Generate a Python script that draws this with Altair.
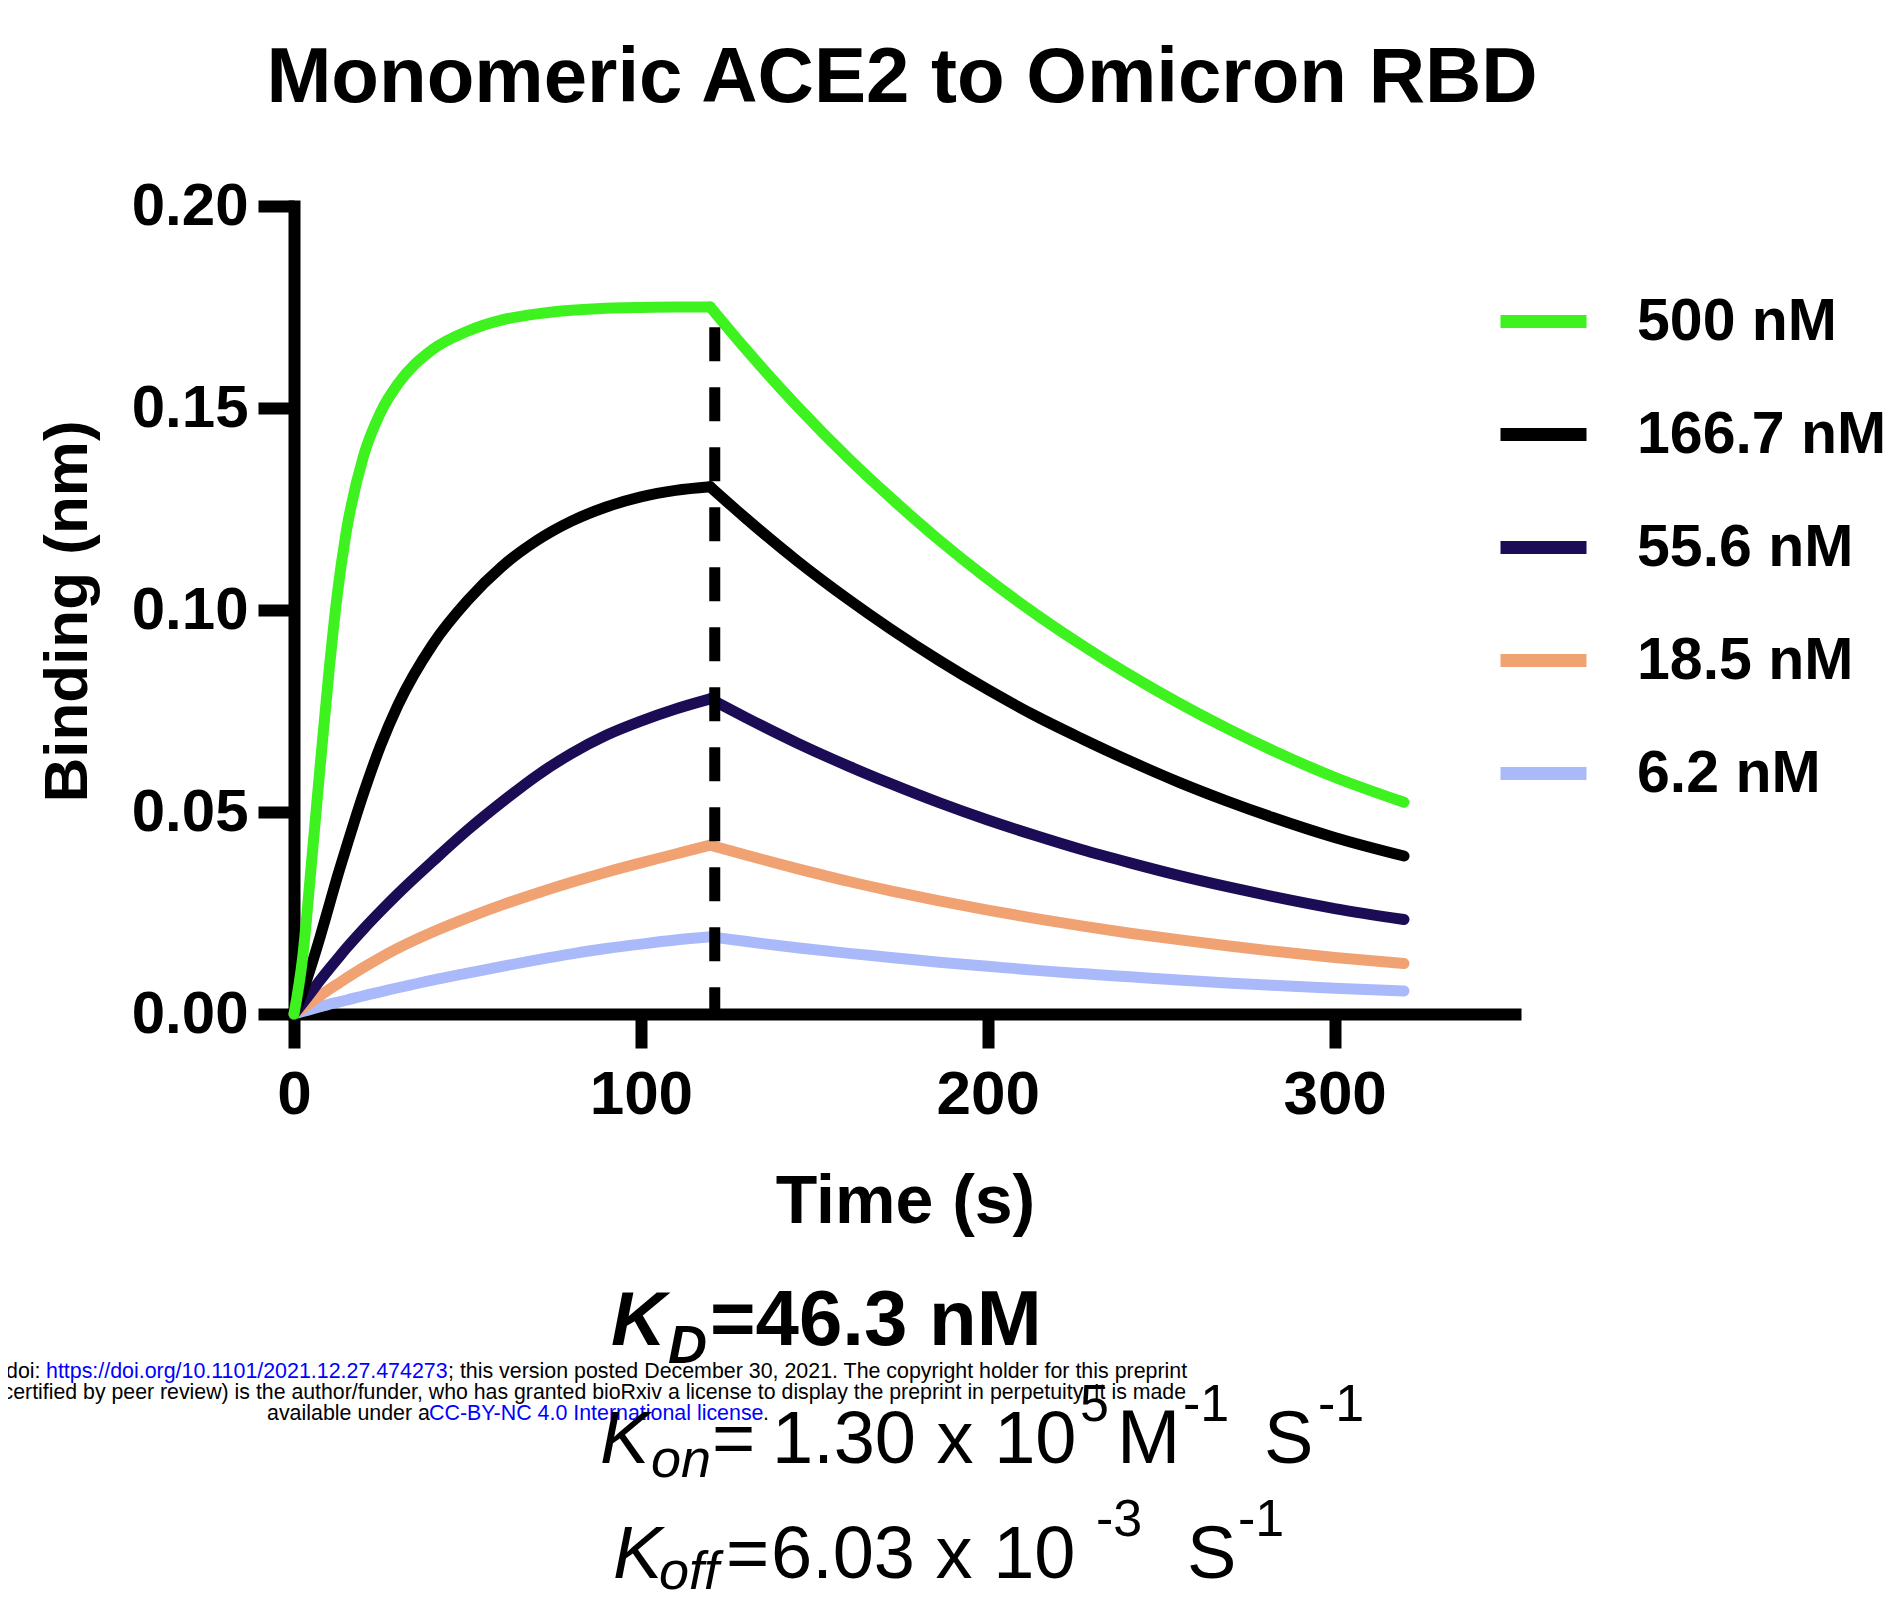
import altair as alt
import pandas as pd

FONT = "Liberation Sans"

# ---------------- data ----------------
series = ["500 nM", "166.7 nM", "55.6 nM", "18.5 nM", "6.2 nM"]
colors = ["#3DF21E", "#000000", "#1C0C55", "#F0A273", "#A9B9FA"]

assoc_time = [0, 2.5, 5, 7.5, 10, 12.5, 15, 20, 25, 30, 40, 50, 60, 70, 80, 90, 100, 110, 120]
dissoc_time = [120, 130, 145, 160, 172, 186, 200, 214, 227, 241, 255, 269, 282, 300, 320]

assoc_500 = [0, 0.014, 0.037, 0.061, 0.084, 0.104, 0.119, 0.138, 0.149, 0.156, 0.1645, 0.169, 0.1718, 0.1733, 0.1742, 0.1747, 0.1749, 0.175, 0.175]
assoc_166 = [0, 0.0055, 0.012, 0.019, 0.0265, 0.034, 0.041, 0.0545, 0.0665, 0.0765, 0.0915, 0.1023, 0.1108, 0.1172, 0.1220, 0.1255, 0.128, 0.1296, 0.1305]
assoc_55 = [0, 0.0027, 0.0055, 0.0083, 0.011, 0.0136, 0.0162, 0.021, 0.0255, 0.0298, 0.0378, 0.0455, 0.0525, 0.059, 0.0645, 0.069, 0.0725, 0.0755, 0.078]
assoc_18 = [0, 0.0015, 0.003, 0.0045, 0.006, 0.0074, 0.0088, 0.0115, 0.014, 0.0163, 0.0203, 0.0238, 0.027, 0.0299, 0.0326, 0.0351, 0.0374, 0.0396, 0.0418]
assoc_6 = [0, 0.0006, 0.0012, 0.0018, 0.0024, 0.0029, 0.0034, 0.0045, 0.0055, 0.0065, 0.0084, 0.0101, 0.0118, 0.0134, 0.0149, 0.0162, 0.0173, 0.0183, 0.0191]

dissoc_500 = [0.175, 0.1648, 0.1505, 0.1374, 0.1278, 0.1173, 0.1077, 0.0989, 0.0914, 0.0839, 0.0770, 0.0707, 0.0653, 0.0586, 0.0524]
dissoc_166 = [0.1305, 0.1229, 0.1122, 0.1025, 0.0953, 0.0875, 0.0803, 0.0737, 0.0682, 0.0626, 0.0574, 0.0527, 0.0487, 0.0437, 0.0391]
dissoc_55 = [0.078, 0.0735, 0.0671, 0.0613, 0.0570, 0.0523, 0.0480, 0.0441, 0.0407, 0.0374, 0.0343, 0.0315, 0.0291, 0.0261, 0.0234]
dissoc_18 = [0.0418, 0.0394, 0.0360, 0.0328, 0.0305, 0.0280, 0.0257, 0.0236, 0.0218, 0.0200, 0.0184, 0.0169, 0.0156, 0.0140, 0.0125]
dissoc_6 = [0.0191, 0.0180, 0.0164, 0.0150, 0.0140, 0.0128, 0.0118, 0.0108, 0.0100, 0.0092, 0.0084, 0.0077, 0.0071, 0.0064, 0.0057]

dash_time = [121.3]
dash_top = [0.170]
dash_bottom = [0.0]

x_ticks = [0, 100, 200, 300]
y_ticks = [0, 0.05, 0.10, 0.15, 0.20]

title_text = "Monomeric ACE2 to Omicron RBD"

# ---------------- build long table ----------------
assoc_all = [assoc_500, assoc_166, assoc_55, assoc_18, assoc_6]
dissoc_all = [dissoc_500, dissoc_166, dissoc_55, dissoc_18, dissoc_6]
rows = []
for s, a, d in zip(series, assoc_all, dissoc_all):
    for t, v in zip(assoc_time, a):
        rows.append({"series": s, "time": t, "binding": v, "seg": "association"})
    for t, v in zip(dissoc_time, d):
        rows.append({"series": s, "time": t, "binding": v, "seg": "dissociation"})
df = pd.DataFrame(rows)

dash_df = pd.DataFrame({"time": dash_time, "binding": dash_top, "binding2": dash_bottom})

W, H = 1221, 808

x_enc = alt.X("time:Q",
              scale=alt.Scale(domain=[0, 352], nice=False, zero=False),
              axis=alt.Axis(values=x_ticks, format="d", title="Time (s)",
                            titleX=611, titleY=208, titleBaseline="alphabetic", titleAlign="center",
                            titleFont=FONT, titleFontSize=68, titleFontWeight="bold", titleColor="black",
                            labelFont=FONT, labelFontSize=62, labelFontWeight="bold", labelColor="black",
                            labelPadding=16, tickSize=34, tickWidth=12, tickColor="black",
                            domainWidth=12, domainColor="black", domainCap="square",
                            grid=False, labelOverlap=False, labelFlush=False))
y_enc = alt.Y("binding:Q",
              scale=alt.Scale(domain=[0, 0.2], nice=False, zero=False),
              axis=alt.Axis(values=y_ticks, format=".2f", title="Binding (nm)",
                            titleAngle=270, titleX=-227, titleY=405, titleBaseline="middle", titleAlign="center",
                            titleFont=FONT, titleFontSize=62, titleFontWeight="bold", titleColor="black",
                            labelFont=FONT, labelFontSize=60, labelFontWeight="bold", labelColor="black",
                            labelPadding=10, tickSize=36, tickWidth=12, tickColor="black",
                            domainWidth=12, domainColor="black", domainCap="square",
                            grid=False, labelOverlap=False, labelFlush=False))
color_enc = alt.Color("series:N",
                      scale=alt.Scale(domain=series, range=colors),
                      legend=alt.Legend(title=None, orient="none", legendX=1200, legendY=66,
                                        symbolType="stroke", symbolSize=7396, symbolStrokeWidth=13,
                                        labelFont=FONT, labelFontSize=59, labelFontWeight="bold",
                                        labelColor="black", labelOffset=44, rowPadding=33,
                                        padding=0, labelLimit=500))

# draw the lowest concentration first so the 500 nM curve sits on top
line_layers = []
for s in reversed(series):
    line_layers.append(
        alt.Chart(df[df["series"] == s]).mark_line(
            strokeWidth=11, strokeCap="round", strokeJoin="round", interpolate="monotone"
        ).encode(x=x_enc, y=y_enc, color=color_enc, detail="seg:N")
    )

dash = alt.Chart(dash_df).mark_rule(strokeWidth=11, strokeDash=[34, 26], color="black", strokeCap="butt").encode(
    x="time:Q", y="binding:Q", y2="binding2:Q"
)

# ---------------- texts ----------------
def txt(text, gx, gy, size, weight="normal", style="normal", color="black", align="left"):
    return alt.Chart(pd.DataFrame({"k": [0]})).mark_text(
        text=text, font=FONT, fontSize=size, fontWeight=weight, fontStyle=style,
        color=color, align=align, baseline="alphabetic"
    ).encode(x=alt.value(gx), y=alt.value(gy))

# page coords -> group coords: subtract (294, 206)
def T(text, px, py, size, **kw):
    return txt(text, px - 294, py - 206, size, **kw)

HS = 21.4
texts = [
    T(title_text, 902, 102, 78, weight="bold", align="center"),
    # header lines
    T("doi: ", 6, 1378, HS),
    T("https://doi.org/10.1101/2021.12.27.474273", 46, 1378, HS, color="#0000FF"),
    T("; this version posted December 30, 2021. The copyright holder for this preprint", 448, 1378, HS),
    T("certified by peer review) is the author/funder, who has granted bioRxiv a license to display the preprint in perpetuity. It is made", 1186, 1399, 21.3, align="right"),
    T("available under a", 267, 1420, HS),
    T("CC-BY-NC 4.0 International license", 429, 1420, HS, color="#0000FF"),
    T(".", 763, 1420, HS),
    # KD
    T("K", 611, 1345, 76, weight="bold", style="italic"),
    T("D", 668, 1363, 54, weight="bold", style="italic"),
    T("=46.3 nM", 710, 1345, 78, weight="bold"),
    # Kon
    T("K", 600, 1463, 74, style="italic"),
    T("on", 651, 1477, 54, style="italic"),
    T("=", 712, 1463, 74),
    T("1.30 x 10", 772, 1463, 74),
    T("5", 1080, 1421, 52),
    T("M", 1117, 1463, 76),
    T("-1", 1183, 1421, 52),
    T("S", 1264, 1463, 74),
    T("-1", 1318, 1421, 52),
    # Koff
    T("K", 613, 1578, 74, style="italic"),
    T("off", 659, 1589, 54, style="italic"),
    T("=", 726, 1578, 74),
    T("6.03 x 10", 771, 1578, 74),
    T("-3", 1096, 1536, 52),
    T("S", 1187, 1578, 74),
    T("-1", 1238, 1536, 52),
]

chart = alt.layer(*line_layers, dash, *texts).properties(
    width=W, height=H,
    padding={"left": 286, "top": 198, "right": 374, "bottom": 578},
    autosize=alt.AutoSizeParams(type="none"),
    background="white",
).configure_view(stroke=None)

chart.save("out.html", embed_options={"renderer": "svg", "actions": False})
